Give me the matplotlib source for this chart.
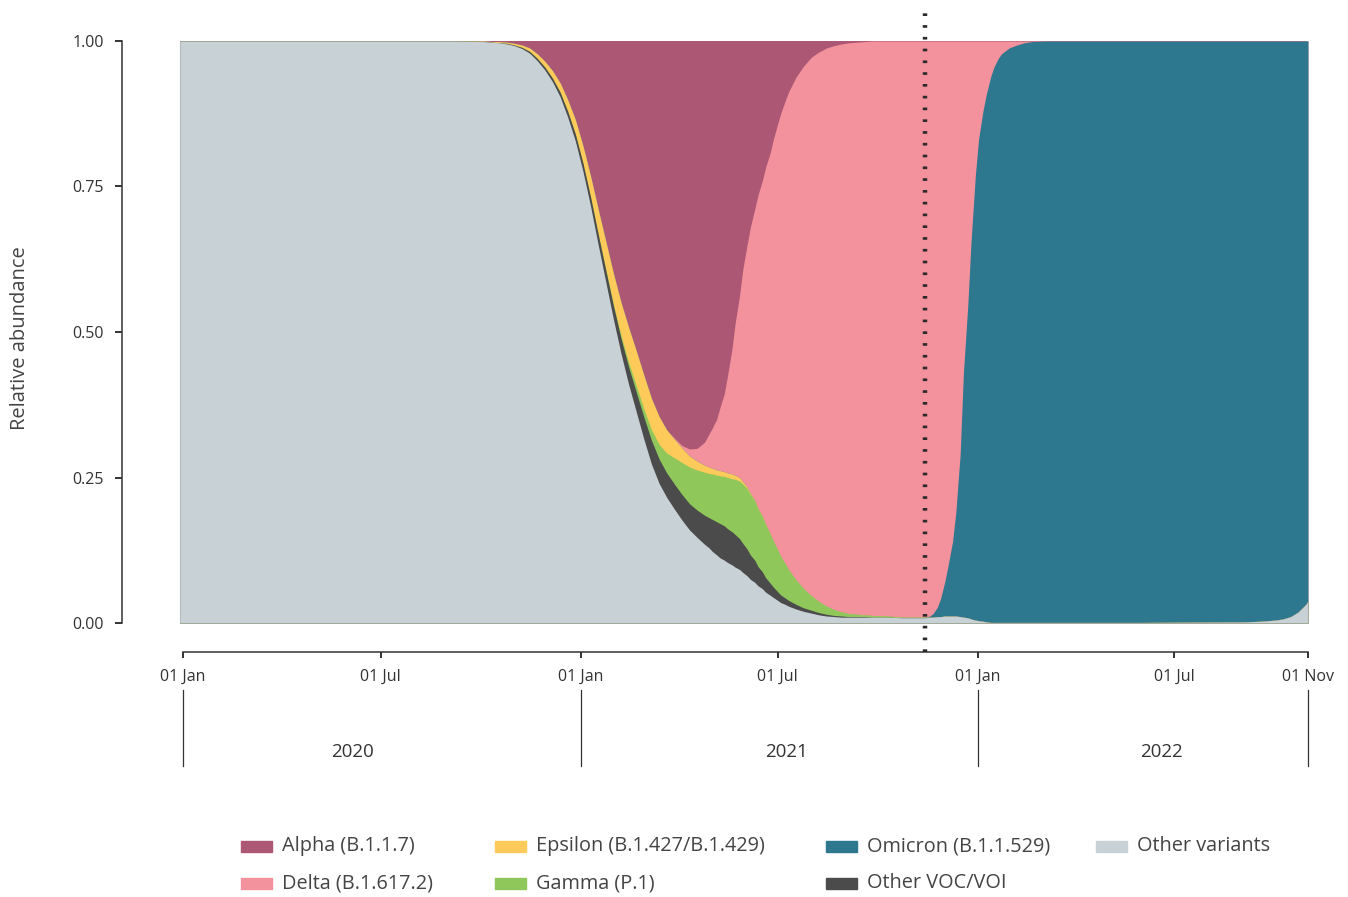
import numpy as np
import matplotlib
matplotlib.use("Agg")
import matplotlib.pyplot as plt
import matplotlib.dates as mdates
import matplotlib.transforms as mtrans
from matplotlib.patches import Rectangle

plt.rcParams["font.family"] = ["Open Sans", "DejaVu Sans"]

# ---- data: relative abundance of SARS-CoV-2 lineages ----
dates = [
    "2019-12-29", "2020-09-06", "2020-10-04", "2020-10-11", "2020-10-18",
    "2020-10-25", "2020-11-01", "2020-11-08", "2020-11-15", "2020-11-22",
    "2020-11-29", "2020-12-06", "2020-12-13", "2020-12-20", "2020-12-27",
    "2021-01-03", "2021-01-10", "2021-01-17", "2021-01-24", "2021-01-31",
    "2021-02-07", "2021-02-14", "2021-02-21", "2021-02-28", "2021-03-07",
    "2021-03-14", "2021-03-21", "2021-03-28", "2021-04-04", "2021-04-11",
    "2021-04-18", "2021-04-25", "2021-04-29", "2021-05-02", "2021-05-06",
    "2021-05-09", "2021-05-13", "2021-05-16", "2021-05-20", "2021-05-23",
    "2021-05-27", "2021-05-30", "2021-06-03", "2021-06-06", "2021-06-10",
    "2021-06-13", "2021-06-17", "2021-06-20", "2021-06-24", "2021-06-27",
    "2021-07-01", "2021-07-04", "2021-07-08", "2021-07-11", "2021-07-18",
    "2021-07-25", "2021-08-01", "2021-08-08", "2021-08-15", "2021-08-22",
    "2021-08-29", "2021-09-05", "2021-09-12", "2021-09-19", "2021-09-26",
    "2021-10-10", "2021-10-24", "2021-11-07", "2021-11-14", "2021-11-18",
    "2021-11-21", "2021-11-25", "2021-11-28", "2021-12-02", "2021-12-05",
    "2021-12-09", "2021-12-12", "2021-12-16", "2021-12-19", "2021-12-23",
    "2021-12-26", "2021-12-30", "2022-01-02", "2022-01-06", "2022-01-09",
    "2022-01-13", "2022-01-16", "2022-01-20", "2022-01-23", "2022-01-30",
    "2022-02-06", "2022-02-13", "2022-02-20", "2022-03-06", "2022-06-01",
    "2022-09-04", "2022-09-18", "2022-10-02", "2022-10-09", "2022-10-16",
    "2022-10-23", "2022-10-30", "2022-11-01",
]

other_variants = [
    1.000, 1.000, 0.999, 0.998, 0.997, 0.995, 0.992, 0.987, 0.979, 0.966,
    0.950, 0.930, 0.904, 0.869, 0.828, 0.776, 0.716, 0.650, 0.586, 0.522,
    0.463, 0.410, 0.363, 0.316, 0.273, 0.240, 0.216, 0.196, 0.177, 0.160,
    0.147, 0.135, 0.129, 0.123, 0.117, 0.112, 0.108, 0.104, 0.100, 0.096,
    0.092, 0.087, 0.081, 0.075, 0.070, 0.064, 0.059, 0.053, 0.048, 0.044,
    0.039, 0.035, 0.032, 0.029, 0.024, 0.020, 0.017, 0.014, 0.012, 0.011,
    0.010, 0.010, 0.010, 0.010, 0.010, 0.010, 0.009, 0.009, 0.009, 0.010,
    0.010, 0.011, 0.011, 0.012, 0.012, 0.012, 0.012, 0.011, 0.010, 0.009,
    0.007, 0.005, 0.004, 0.003, 0.002, 0.001, 0.001, 0.001, 0.001, 0.001,
    0.001, 0.001, 0.001, 0.001, 0.001, 0.002, 0.003, 0.005, 0.007, 0.011,
    0.019, 0.032, 0.038,
]
other_voc_voi = [
    0, 0, 0, 0, 0, 0.001, 0.001, 0.002, 0.003, 0.004,
    0.005, 0.006, 0.008, 0.010, 0.012, 0.014, 0.016, 0.018, 0.020, 0.023,
    0.026, 0.030, 0.034, 0.038, 0.041, 0.042, 0.042, 0.043, 0.044, 0.045,
    0.047, 0.050, 0.052, 0.055, 0.057, 0.059, 0.059, 0.058, 0.057, 0.056,
    0.053, 0.050, 0.046, 0.042, 0.038, 0.033, 0.029, 0.025, 0.021, 0.018,
    0.015, 0.013, 0.011, 0.010, 0.008, 0.006, 0.005, 0.004, 0.003, 0.002,
    0.002, 0.001, 0.001, 0.001, 0, 0, 0, 0, 0, 0,
    0, 0, 0, 0, 0, 0, 0, 0, 0, 0,
    0, 0, 0, 0, 0, 0, 0, 0, 0, 0,
    0, 0, 0, 0, 0, 0, 0, 0, 0, 0,
    0, 0, 0,
]
gamma = [
    0, 0, 0, 0, 0, 0, 0, 0, 0, 0,
    0, 0, 0, 0, 0, 0, 0, 0.001, 0.002, 0.003,
    0.005, 0.008, 0.011, 0.014, 0.018, 0.025, 0.034, 0.045, 0.055, 0.063,
    0.069, 0.074, 0.076, 0.078, 0.080, 0.082, 0.085, 0.088, 0.091, 0.095,
    0.099, 0.102, 0.104, 0.104, 0.102, 0.099, 0.095, 0.091, 0.085, 0.079,
    0.072, 0.066, 0.059, 0.053, 0.042, 0.033, 0.025, 0.019, 0.014, 0.010,
    0.007, 0.005, 0.004, 0.003, 0.003, 0.002, 0.001, 0.001, 0.001, 0,
    0, 0, 0, 0, 0, 0, 0, 0, 0, 0,
    0, 0, 0, 0, 0, 0, 0, 0, 0, 0,
    0, 0, 0, 0, 0, 0, 0, 0, 0, 0,
    0, 0, 0,
]
epsilon = [
    0, 0, 0.001, 0.001, 0.002, 0.002, 0.003, 0.004, 0.006, 0.008,
    0.010, 0.013, 0.016, 0.020, 0.025, 0.030, 0.036, 0.042, 0.048, 0.053,
    0.057, 0.060, 0.060, 0.058, 0.054, 0.048, 0.040, 0.032, 0.025, 0.019,
    0.015, 0.012, 0.011, 0.010, 0.009, 0.009, 0.008, 0.008, 0.008, 0.007,
    0.006, 0.004, 0.003, 0.002, 0.001, 0.001, 0.001, 0.001, 0, 0,
    0, 0, 0, 0, 0, 0, 0, 0, 0, 0,
    0, 0, 0, 0, 0, 0, 0, 0, 0, 0,
    0, 0, 0, 0, 0, 0, 0, 0, 0, 0,
    0, 0, 0, 0, 0, 0, 0, 0, 0, 0,
    0, 0, 0, 0, 0, 0, 0, 0, 0, 0,
    0, 0, 0,
]
omicron = [
    0, 0, 0, 0, 0, 0, 0, 0, 0, 0,
    0, 0, 0, 0, 0, 0, 0, 0, 0, 0,
    0, 0, 0, 0, 0, 0, 0, 0, 0, 0,
    0, 0, 0, 0, 0, 0, 0, 0, 0, 0,
    0, 0, 0, 0, 0, 0, 0, 0, 0, 0,
    0, 0, 0, 0, 0, 0, 0, 0, 0, 0,
    0, 0, 0, 0, 0, 0, 0, 0, 0, 0.002,
    0.006, 0.016, 0.031, 0.060, 0.088, 0.128, 0.178, 0.279, 0.420, 0.536,
    0.648, 0.765, 0.828, 0.877, 0.906, 0.937, 0.954, 0.969, 0.977, 0.987,
    0.992, 0.996, 0.998, 0.999, 0.999, 0.998, 0.997, 0.995, 0.993, 0.989,
    0.981, 0.968, 0.962,
]
delta = [
    0, 0, 0, 0, 0, 0, 0, 0, 0, 0,
    0, 0, 0, 0, 0, 0, 0, 0, 0, 0,
    0, 0, 0, 0, 0, 0, 0, 0.002, 0.004, 0.012,
    0.022, 0.040, 0.057, 0.069, 0.087, 0.108, 0.134, 0.167, 0.214, 0.261,
    0.312, 0.364, 0.416, 0.457, 0.500, 0.538, 0.576, 0.613, 0.652, 0.689,
    0.731, 0.762, 0.795, 0.820, 0.864, 0.898, 0.925, 0.944, 0.959, 0.969,
    0.976, 0.981, 0.983, 0.985, 0.987, 0.988, 0.990, 0.990, 0.990, 0.988,
    0.984, 0.973, 0.958, 0.928, 0.900, 0.860, 0.810, 0.710, 0.570, 0.455,
    0.345, 0.230, 0.168, 0.120, 0.092, 0.062, 0.045, 0.030, 0.022, 0.012,
    0.007, 0.003, 0.001, 0, 0, 0, 0, 0, 0, 0,
    0, 0, 0,
]
alpha = [
    0, 0, 0, 0.001, 0.001, 0.002, 0.004, 0.007, 0.012, 0.022,
    0.035, 0.051, 0.072, 0.101, 0.135, 0.180, 0.232, 0.289, 0.344, 0.399,
    0.449, 0.492, 0.532, 0.574, 0.614, 0.645, 0.668, 0.682, 0.695, 0.701,
    0.700, 0.689, 0.675, 0.665, 0.650, 0.630, 0.606, 0.575, 0.530, 0.485,
    0.438, 0.393, 0.350, 0.320, 0.289, 0.265, 0.240, 0.217, 0.194, 0.170,
    0.143, 0.124, 0.103, 0.088, 0.062, 0.043, 0.028, 0.019, 0.012, 0.008,
    0.005, 0.003, 0.002, 0.001, 0, 0, 0, 0, 0, 0,
    0, 0, 0, 0, 0, 0, 0, 0, 0, 0,
    0, 0, 0, 0, 0, 0, 0, 0, 0, 0,
    0, 0, 0, 0, 0, 0, 0, 0, 0, 0,
    0, 0, 0,
]

labels = ["Other variants", "Other VOC/VOI", "Gamma (P.1)",
          "Epsilon (B.1.427/B.1.429)", "Omicron (B.1.1.529)",
          "Delta (B.1.617.2)", "Alpha (B.1.1.7)"]
colors = ["#C8D1D6", "#4B4B4B", "#8FC75A", "#FECB5B", "#2D788F",
          "#F3929D", "#AC5874"]

# legend order (column-major, 4 columns x 2 rows)
legend_order = ["Alpha (B.1.1.7)", "Delta (B.1.617.2)",
                "Epsilon (B.1.427/B.1.429)", "Gamma (P.1)",
                "Omicron (B.1.1.529)", "Other VOC/VOI", "Other variants"]

x_ticks = ["2020-01-01", "2020-07-01", "2021-01-01", "2021-07-01",
           "2022-01-01", "2022-07-01", "2022-11-01"]
year_bounds = ["2020-01-01", "2021-01-01", "2022-01-01", "2022-11-01"]
year_labels = ["2020", "2021", "2022"]
year_label_at = ["2020-06-05", "2021-07-09", "2022-06-19"]
cutoff_date = "2021-11-14"

# ---- figure ----
W, H = 1348, 897
fig = plt.figure(figsize=(W / 100, H / 100), dpi=100)
ax_l, ax_r, ax_t, ax_b = 179.7, 1308.0, 41.0, 623.0
ax = fig.add_axes([ax_l / W, 1 - ax_b / H, (ax_r - ax_l) / W, (ax_b - ax_t) / H])

x = mdates.date2num(np.array(dates, dtype="datetime64[D]"))
stack = np.array([other_variants, other_voc_voi, gamma, epsilon,
                  omicron, delta, alpha], dtype=float)
stack = stack / stack.sum(axis=0)
cum = np.cumsum(stack, axis=0)

# paint from the top layer down so neighbouring areas share no seams
for i in reversed(range(len(labels))):
    ax.fill_between(x, 0, cum[i], color=colors[i], lw=0, zorder=1 + (7 - i) * 0.01)

ax.set_xlim(x[0], x[-1])
ax.set_ylim(0, 1)

ink = "#333333"
txt = "#444444"

# y axis
for s in ["top", "right"]:
    ax.spines[s].set_visible(False)
ax.spines["left"].set_position(("outward", 41.5))
ax.spines["left"].set_color(ink)
ax.spines["left"].set_linewidth(1.1)
ax.set_yticks([0, 0.25, 0.5, 0.75, 1.0])
ax.set_yticklabels(["0.00", "0.25", "0.50", "0.75", "1.00"])
ax.tick_params(axis="y", length=5, width=1.4, color=ink, pad=8,
               labelsize=11.5, labelcolor=ink)

# date axis
xt = mdates.date2num(np.array(x_ticks, dtype="datetime64[D]"))
ax.spines["bottom"].set_position(("outward", 20.9))
ax.spines["bottom"].set_bounds(xt[0], xt[-1])
ax.spines["bottom"].set_color(ink)
ax.spines["bottom"].set_linewidth(1.1)
ax.set_xticks(xt)
ax.set_xticklabels([mdates.num2date(v).strftime("%d %b") for v in xt])
ax.tick_params(axis="x", length=4, width=1.4, color=ink, pad=8,
               labelsize=11.5, labelcolor=ink)

# year band under the date axis
trans = mtrans.blended_transform_factory(ax.transData, fig.transFigure)
yb = mdates.date2num(np.array(year_bounds, dtype="datetime64[D]"))
for v in yb:
    ax.plot([v, v], [1 - 690 / H, 1 - 766 / H], transform=trans, color=ink,
            lw=0.9, clip_on=False)
ya = mdates.date2num(np.array(year_label_at, dtype="datetime64[D]"))
for v, lab in zip(ya, year_labels):
    ax.text(v, 1 - 752 / H, lab, transform=trans, ha="center", va="center",
            fontsize=13.5, color=ink)

# cutoff marker
xc = mdates.date2num(np.datetime64(cutoff_date))
ax.axvline(xc, ymin=-29 / 582, ymax=1 + 31 / 582, color="#2a2a2a", lw=3.2,
           linestyle=(0, (0.6, 2.05)), dash_capstyle="butt", clip_on=False,
           zorder=5)

fig.text(20 / W, 1 - 338 / H, "Relative abundance", rotation=90,
         ha="center", va="center", fontsize=14.5, color=txt)

# legend
col_x = [241, 495, 826, 1096]
row_y = [846, 883]
for k, lab in enumerate(legend_order):
    c, r = divmod(k, 2)
    px, py = col_x[c], row_y[r]
    fig.patches.append(Rectangle((px / W, 1 - (py + 5.5) / H), 31 / W, 11 / H,
                                 transform=fig.transFigure,
                                 color=colors[labels.index(lab)]))
    fig.text((px + 41) / W, 1 - py / H, lab, ha="left", va="center",
             fontsize=14.3, color=txt)

fig.savefig("out.png", dpi=100)
